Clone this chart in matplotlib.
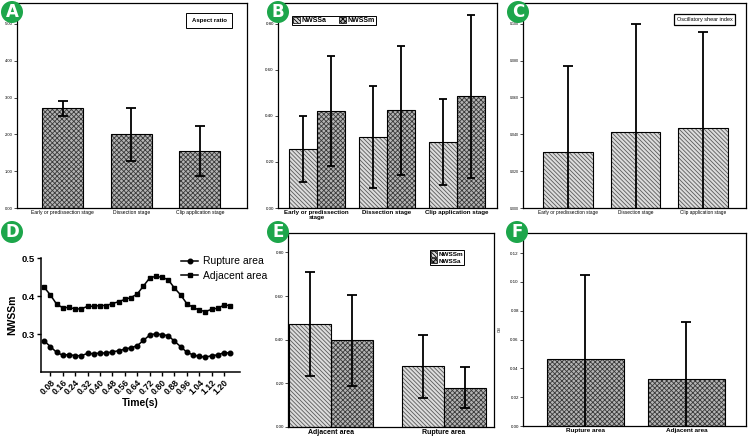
import matplotlib
matplotlib.use('Agg')
import matplotlib.pyplot as plt
from matplotlib.patches import Ellipse, Patch
import numpy as np

plt.rcParams['font.family'] = ['Liberation Sans', 'DejaVu Sans']
plt.rcParams['hatch.linewidth'] = 0.6

# Painel A - razao de aspecto
stages = ['Early or predissection stage', 'Dissection stage', 'Clip application stage']
aspect_mean = [2.71, 2.01, 1.56]
aspect_lo = [2.49, 1.29, 0.88]
aspect_hi = [2.92, 2.73, 2.22]

# Painel B - NWSSa / NWSSm por estagio
nwssa_mean = [0.256, 0.308, 0.287]
nwssa_lo = [0.111, 0.087, 0.100]
nwssa_hi = [0.400, 0.531, 0.472]
nwssm_mean = [0.421, 0.424, 0.485]
nwssm_lo = [0.184, 0.142, 0.130]
nwssm_hi = [0.661, 0.702, 0.838]

# Painel C - OSI por estagio
osi_mean = [0.0304, 0.0412, 0.0432]
osi_hi = [0.0768, 0.1000, 0.0953]

# Painel D - NWSSm ao longo do ciclo
time_s = [0.04, 0.08, 0.12, 0.16, 0.20, 0.24, 0.28, 0.32, 0.36, 0.40, 0.44,
          0.48, 0.52, 0.56, 0.60, 0.64, 0.68, 0.72, 0.76, 0.80, 0.84, 0.88,
          0.92, 0.96, 1.00, 1.04, 1.08, 1.12, 1.16, 1.20, 1.24]
rupture = [0.282, 0.267, 0.252, 0.244, 0.246, 0.243, 0.243, 0.249, 0.248, 0.250,
           0.250, 0.253, 0.256, 0.260, 0.264, 0.269, 0.283, 0.297, 0.301, 0.298,
           0.296, 0.281, 0.267, 0.252, 0.245, 0.241, 0.239, 0.243, 0.245, 0.251, 0.250]
adjacent = [0.423, 0.403, 0.379, 0.369, 0.370, 0.366, 0.366, 0.373, 0.373, 0.375,
            0.375, 0.380, 0.385, 0.391, 0.396, 0.405, 0.426, 0.447, 0.452, 0.449,
            0.443, 0.421, 0.403, 0.380, 0.370, 0.363, 0.359, 0.365, 0.368, 0.376, 0.375]
time_ticks = [0.08, 0.16, 0.24, 0.32, 0.40, 0.48, 0.56, 0.64, 0.72, 0.80,
              0.88, 0.96, 1.04, 1.12, 1.20]

# Painel E - NWSS por area
areas_e = ['Adjacent area', 'Rupture area']
e_nwssm_mean = [0.470, 0.278]
e_nwssm_lo = [0.235, 0.131]
e_nwssm_hi = [0.708, 0.421]
e_nwssa_mean = [0.397, 0.179]
e_nwssa_lo = [0.189, 0.087]
e_nwssa_hi = [0.605, 0.273]

# Painel F - OSI por area
areas_f = ['Rupture area', 'Adjacent area']
f_osi_mean = [0.0464, 0.0323]
f_osi_hi = [0.1049, 0.0722]

W, H = 750, 438
fig = plt.figure(figsize=(W / 100, H / 100), dpi=100)


def px(l, t, r, b):
    return [l / W, 1 - b / H, (r - l) / W, (b - t) / H]


# padroes (hachura com cor propria + contorno preto por cima)
light = dict(facecolor='#dcdcdc', edgecolor='#5a5a5a', hatch='\\\\\\\\\\\\\\\\')
dark = dict(facecolor='#b4b4b4', edgecolor='#3a3a3a', hatch='xxxxxxx')
err_kw = dict(ecolor='black', elinewidth=1.3, capthick=1.3)


def hbar(ax, x, h, w, style):
    ax.bar(x, h, w, linewidth=0, **style)
    ax.bar(x, h, w, fill=False, edgecolor='black', linewidth=0.8)


def asym(mean, lo, hi):
    m = np.array(mean)
    return [m - np.array(lo), np.array(hi) - m]


def style_box(ax, fmt, size):
    for s in ax.spines.values():
        s.set_linewidth(0.9)
    ax.yaxis.set_major_formatter(matplotlib.ticker.FormatStrFormatter(fmt))
    ax.tick_params(axis='y', labelsize=size, length=2, width=0.5, pad=1)
    ax.tick_params(axis='x', length=0, pad=1.5)


def leg_patch(style):
    return Patch(facecolor=style['facecolor'], hatch=style['hatch'], edgecolor='black', linewidth=0.5)


x3 = np.arange(3)
x2 = np.arange(2)

# A
axA = fig.add_axes(px(17, 3, 247, 208))
hbar(axA, x3, aspect_mean, 0.6, dark)
axA.errorbar(x3, aspect_mean, yerr=asym(aspect_mean, aspect_lo, aspect_hi),
             fmt='none', capsize=3.3, **err_kw)
axA.set_xlim(-0.67, 2.69)
axA.set_ylim(0, 5.57)
axA.set_yticks([0, 1, 2, 3, 4, 5])
style_box(axA, '%.2f', 3)
axA.set_xticks(x3)
axA.set_xticklabels(stages, fontsize=3.6)
axA.text(0.835, 0.915, 'Aspect ratio', transform=axA.transAxes, fontsize=4.3,
         fontweight='bold', ha='center', va='center',
         bbox=dict(boxstyle='square,pad=0.9', fc='white', ec='black', lw=0.7))

# B
axB = fig.add_axes(px(278, 3, 497, 208))
wb = 0.4
hbar(axB, x3 - wb / 2, nwssa_mean, wb, light)
hbar(axB, x3 + wb / 2, nwssm_mean, wb, dark)
axB.errorbar(x3 - wb / 2, nwssa_mean, yerr=asym(nwssa_mean, nwssa_lo, nwssa_hi),
             fmt='none', capsize=2.8, **err_kw)
axB.errorbar(x3 + wb / 2, nwssm_mean, yerr=asym(nwssm_mean, nwssm_lo, nwssm_hi),
             fmt='none', capsize=2.8, **err_kw)
axB.set_xlim(-0.553, 2.576)
axB.set_ylim(0, 0.891)
axB.set_yticks([0, 0.2, 0.4, 0.6, 0.8])
style_box(axB, '%.2f', 3.2)
axB.set_xticks(x3)
axB.set_xticklabels(['Early or predissection\nstage', 'Dissection stage', 'Clip application stage'],
                    fontsize=4.4, fontweight='bold', linespacing=0.9, va='top')
legB = axB.legend([leg_patch(light), leg_patch(dark)], ['NWSSa', 'NWSSm'], ncol=2,
                  loc='upper left', bbox_to_anchor=(0.05, 0.955), fancybox=False,
                  edgecolor='black', framealpha=1, borderpad=0.15, handlelength=1.0,
                  handleheight=1.0, handletextpad=0.2, columnspacing=1.8,
                  prop=dict(size=5, weight='bold'))
legB.get_frame().set_linewidth(0.7)

# C
axC = fig.add_axes(px(523, 3, 746, 208))
hbar(axC, x3, osi_mean, 0.74, light)
osi_up = np.array(osi_hi) - np.array(osi_mean)
axC.errorbar(x3, osi_mean, yerr=osi_up, fmt='none', capsize=3.5, **err_kw)
axC.set_xlim(-0.667, 2.637)
axC.set_ylim(0, 0.1112)
axC.set_yticks([0, 0.02, 0.04, 0.06, 0.08, 0.10])
style_box(axC, '%.3f', 2.6)
axC.set_xticks(x3)
axC.set_xticklabels(stages, fontsize=3.4)
axC.text(0.815, 0.92, 'Oscillatory shear index', transform=axC.transAxes, fontsize=4.0,
         ha='center', va='center',
         bbox=dict(boxstyle='square,pad=0.5', fc='white', ec='black', lw=0.9))

# D
axD = fig.add_axes(px(41, 258, 240, 372))
axD.plot(time_s, rupture, color='black', lw=1.1, marker='o', ms=3.3, label='Rupture area')
axD.plot(time_s, adjacent, color='black', lw=1.1, marker='s', ms=3.3, label='Adjacent area')
axD.set_xlim(0.02, 1.303)
axD.set_ylim(0.2, 0.5)
axD.set_yticks([0.3, 0.4, 0.5])
axD.set_xticks(time_ticks)
axD.set_xticklabels(['%.2f' % t for t in time_ticks], rotation=45, ha='right',
                    rotation_mode='anchor', fontsize=6.3, fontweight='bold')
for lab in axD.get_yticklabels():
    lab.set_fontweight('bold')
axD.tick_params(axis='y', labelsize=6.8, length=3, width=1, pad=1.5)
axD.tick_params(axis='x', length=3, width=1, pad=1.5)
axD.spines['top'].set_visible(False)
axD.spines['right'].set_visible(False)
axD.spines['left'].set_linewidth(1.1)
axD.spines['bottom'].set_linewidth(1.1)
axD.set_ylabel('NWSSm', fontsize=7.5, fontweight='bold', labelpad=3)
axD.set_xlabel('Time(s)', fontsize=7.5, fontweight='bold', labelpad=1)
axD.legend(loc='upper left', bbox_to_anchor=(176 / W, 1 - 251 / H),
           bbox_transform=fig.transFigure, frameon=False, fontsize=7.5,
           borderpad=0, handlelength=1.6, handletextpad=0.45, labelspacing=0.45)

# E
axE = fig.add_axes(px(288, 233, 494, 427))
we = 0.37
hbar(axE, x2 - we / 2, e_nwssm_mean, we, light)
hbar(axE, x2 + we / 2, e_nwssa_mean, we, dark)
axE.errorbar(x2 - we / 2, e_nwssm_mean, yerr=asym(e_nwssm_mean, e_nwssm_lo, e_nwssm_hi),
             fmt='none', capsize=3.5, **err_kw)
axE.errorbar(x2 + we / 2, e_nwssa_mean, yerr=asym(e_nwssa_mean, e_nwssa_lo, e_nwssa_hi),
             fmt='none', capsize=3.5, **err_kw)
axE.set_xlim(-0.377, 1.441)
axE.set_ylim(0, 0.889)
axE.set_yticks([0, 0.2, 0.4, 0.6, 0.8])
style_box(axE, '%.2f', 3.2)
axE.set_xticks(x2)
axE.set_xticklabels(areas_e, fontsize=5, fontweight='bold')
legE = axE.legend([leg_patch(light), leg_patch(dark)], ['NWSSm', 'NWSSa'],
                  loc='upper left', bbox_to_anchor=(0.672, 0.93), fancybox=False,
                  edgecolor='black', framealpha=1, borderpad=0.2, handlelength=1.0,
                  handleheight=1.0, handletextpad=0.2, labelspacing=0.1,
                  prop=dict(size=4.6, weight='bold'))
legE.get_frame().set_linewidth(0.7)

# F
axF = fig.add_axes(px(523, 233, 746, 426))
hbar(axF, x2, f_osi_mean, 0.76, dark)
f_up = np.array(f_osi_hi) - np.array(f_osi_mean)
axF.errorbar(x2, f_osi_mean, yerr=f_up, fmt='none', capsize=3.5, **err_kw)
axF.set_xlim(-0.612, 1.589)
axF.set_ylim(0, 0.134)
axF.set_yticks([0, 0.02, 0.04, 0.06, 0.08, 0.10, 0.12])
style_box(axF, '%.2f', 3.2)
axF.set_xticks(x2)
axF.set_xticklabels(areas_f, fontsize=4.6, fontweight='bold')
axF.set_ylabel('OSI', fontsize=2.5, labelpad=6)

# letras dos paineis
letters = ['A', 'B', 'C', 'D', 'E', 'F']
centers = [(12, 12), (278, 12), (518, 12), (12, 232), (278, 232), (517, 232)]
for letter, (cx, cy) in zip(letters, centers):
    fig.add_artist(Ellipse((cx / W, 1 - cy / H), 22 / W, 22 / H, transform=fig.transFigure,
                           facecolor='#1da64b', edgecolor='none', zorder=10))
    fig.text(cx / W, 1 - cy / H, letter, color='white', fontsize=12, fontweight='bold',
             ha='center', va='center', zorder=11, family=['DejaVu Sans'])

fig.savefig('out.png', dpi=100)
